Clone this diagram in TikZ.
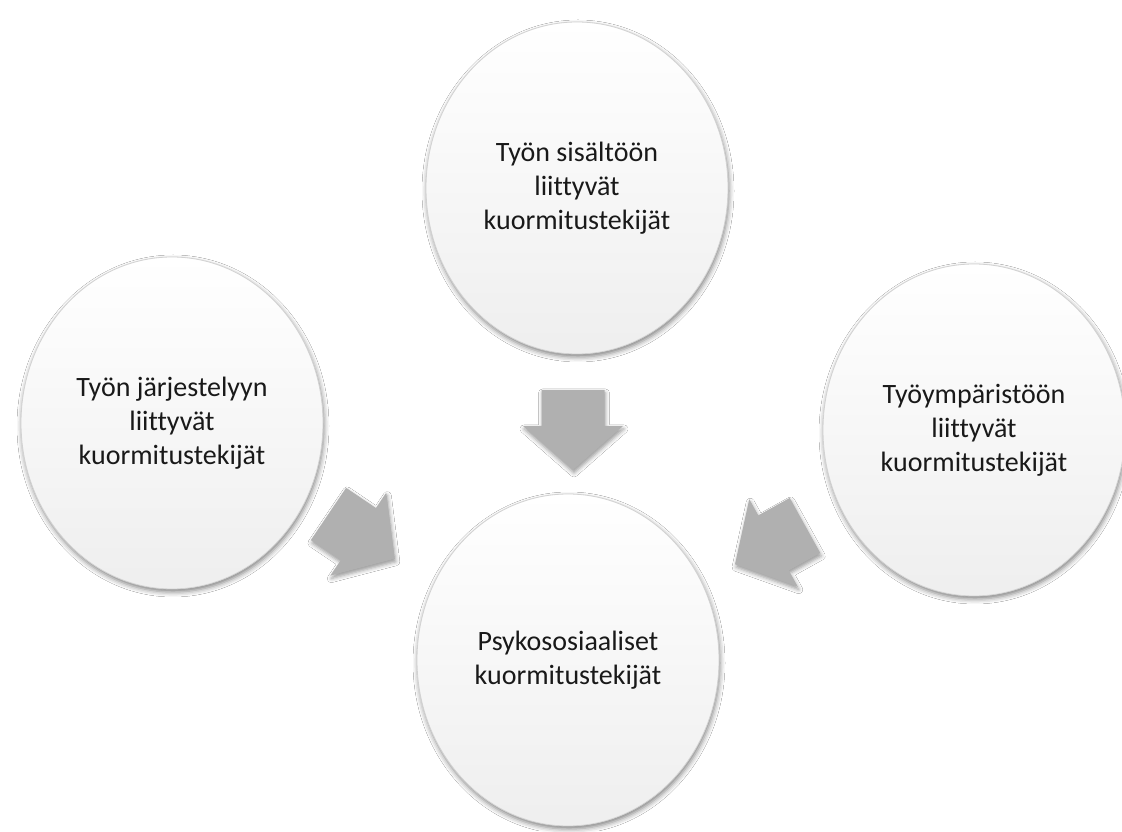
\documentclass[tikz,border=0pt]{standalone}
\usepackage{fontspec}
\setmainfont{Carlito}[Ligatures=NoCommon]
\usetikzlibrary{shapes.geometric,shadows.blur}
\begin{document}
\begin{tikzpicture}[x=1pt,y=1pt,
  bubble/.style={ellipse, minimum width=302pt, minimum height=332pt, inner sep=0pt,
    draw=gray!35, line width=0.8pt, top color=white, middle color=white, bottom color=gray!13,
    blur shadow={shadow xshift=1pt, shadow yshift=-3pt, shadow blur radius=5pt, shadow opacity=50},
    align=center, font=\fontsize{28}{34}\selectfont, text=black!90},
  blockarrow/.style={fill=gray!62, draw=none,
    blur shadow={shadow xshift=1pt, shadow yshift=-3pt, shadow blur radius=4pt, shadow opacity=40}},
  blockarr/.pic={\path[blockarrow] (0,-31.5) -- (36,-31.5) -- (36,-50) -- (80,0) -- (36,50) -- (36,31.5) -- (0,31.5) -- cycle;}]
\useasboundingbox (0,0) rectangle (1122,831);
\fill[white] (0,0) rectangle (1122,831);
% circles
\node[bubble] (top) at (577,643) {Työn sisältöön\\liittyvät\\kuormitustekijät};
\node[bubble] (left) at (172,408) {Työn järjestelyyn\\liittyvät\\kuormitustekijät};
\node[bubble] (right) at (974,401) {Työympäristöön\\liittyvät\\kuormitustekijät};
\node[bubble] (center) at (568,171) {Psykososiaaliset\\kuormitustekijät};
% block arrows
\coordinate (aTop) at (573,441);
\coordinate (aLeft) at (328.5,317);
\coordinate (aRight) at (805,305.5);
\pic[rotate=-90] at (aTop) {blockarr};
\pic[rotate=-34] at (aLeft) {blockarr};
\pic[rotate=-151] at (aRight) {blockarr};
\end{tikzpicture}
\end{document}
